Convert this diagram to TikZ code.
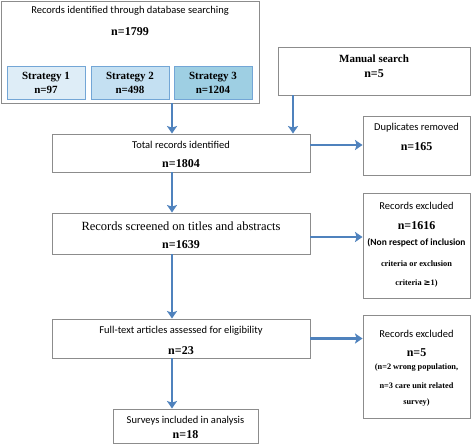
\documentclass[tikz,border=0pt]{standalone}
\usepackage{fontspec}
\setmainfont{Carlito}
\newfontfamily\serifnum{Liberation Serif}
\usepackage{tikz}
\usetikzlibrary{arrows.meta}
\usetikzlibrary{positioning}
\definecolor{mgray}{rgb}{0.55, 0.55, 0.55}
\definecolor{mblue}{rgb}{0.31, 0.51, 0.74}
\definecolor{sedge}{rgb}{0.45, 0.65, 0.84}
\definecolor{sone}{rgb}{0.87, 0.93, 0.97}
\definecolor{stwo}{rgb}{0.77, 0.88, 0.95}
\definecolor{sthree}{rgb}{0.62, 0.81, 0.89}
\tikzset{box/.style = {draw=mgray, line width=0.9pt, fill=white, inner sep=0pt}}
\tikzset{stratbox/.style = {draw=sedge, line width=0.9pt, inner sep=0pt,
                            minimum width=78pt, minimum height=33pt}}
\tikzset{flow/.style = {draw=mblue, line width=2.6pt,
                        -{Stealth[length=7.5pt, width=10pt, inset=1.5pt]}}}
\tikzset{lbl/.style = {inner sep=0pt, font=\fontsize{10.5}{12}\selectfont}}
\tikzset{num/.style = {inner sep=0pt, font=\serifnum\bfseries\fontsize{12}{14}\selectfont}}
\tikzset{strat/.style = {inner sep=0pt, font=\serifnum\bfseries\fontsize{11}{13}\selectfont}}
\tikzset{small/.style = {inner sep=0pt, font=\serifnum\bfseries\fontsize{8.3}{10}\selectfont}}

\begin{document}
\begin{tikzpicture}[x=1pt, y=-1pt]
      \useasboundingbox (0, 0) rectangle (473, 445);

      % boxes
      \node [box, minimum width=258pt, minimum height=102pt] (db) at (130, 52) {};
      \node [stratbox, fill=sone] (sa) at (46, 82.5) {};
      \node [stratbox, fill=stwo] (sb) at (130, 82.5) {};
      \node [stratbox, fill=sthree] (sc) at (213, 82.5) {};
      \node [box, minimum width=192pt, minimum height=48pt] (manual) at (374, 71) {};
      \node [box, minimum width=258pt, minimum height=38pt] (total) at (181, 153) {};
      \node [box, minimum width=107pt, minimum height=59pt] (dup) at (416.5, 145.5) {};
      \node [box, minimum width=258pt, minimum height=41pt] (screen) at (181, 233.5) {};
      \node [box, minimum width=107pt, minimum height=105pt] (exa) at (416.5, 245.5) {};
      \node [box, minimum width=258pt, minimum height=39pt] (full) at (181, 338.5) {};
      \node [box, minimum width=107pt, minimum height=103pt] (exb) at (416.5, 366.5) {};
      \node [box, minimum width=145pt, minimum height=34pt] (surv) at (185.5, 426) {};

      % texts
      \node [lbl] (dbt) at (130, 11) {Records identified through database searching};
      \node [num] (dbn) at (130, 32) {n=1799};
      \node [strat] (sat) at (46, 77) {Strategy 1};
      \node [strat] (san) at (46, 90) {n=97};
      \node [strat] (sbt) at (130, 77) {Strategy 2};
      \node [strat] (sbn) at (130, 90) {n=498};
      \node [strat] (sct) at (213, 77) {Strategy 3};
      \node [strat] (scn) at (213, 90) {n=1204};
      \node [strat] (mant) at (374, 59) {Manual search};
      \node [num] (mann) at (374, 74) {n=5};
      \node [lbl] (tott) at (181, 145) {Total records identified};
      \node [num] (totn) at (181, 164) {n=1804};
      \node [lbl] (dupt) at (416.5, 128) {Duplicates removed};
      \node [num] (dupn) at (416.5, 147) {n=165};
      \node [lbl, font=\serifnum\fontsize{12.5}{14}\selectfont] (scrt) at (181, 226) {Records screened on titles and abstracts};
      \node [num] (scrn) at (181, 245) {n=1639};
      \node [lbl] (exat) at (416.5, 206) {Records excluded};
      \node [num] (exan) at (416.5, 226) {n=1616};
      \node [lbl, font=\bfseries\fontsize{9.5}{11}\selectfont] (exaa) at (416.5, 243) {(Non respect of inclusion};
      \node [small] (exab) at (416.5, 264) {criteria or exclusion};
      \node [small] (exac) at (416.5, 283) {criteria {\fontspec{DejaVu Sans}≥}1)};
      \node [lbl] (fult) at (181, 331) {Full-text articles assessed for eligibility};
      \node [num] (fuln) at (181, 351) {n=23};
      \node [lbl] (exbt) at (416.5, 334) {Records excluded};
      \node [num] (exbn) at (416.5, 353) {n=5};
      \node [small] (exba) at (416.5, 368) {(n=2 wrong population,};
      \node [small] (exbb) at (416.5, 386) {n=3 care unit related};
      \node [small] (exbc) at (416.5, 403) {survey)};
      \node [lbl] (surt) at (185.5, 421) {Surveys included in analysis};
      \node [num] (surn) at (185.5, 435) {n=18};

      % connectors
      \coordinate (col) at (172, 0);
      \coordinate (mcol) at (293, 0);
      \draw [flow] (db.south -| col) -- (total.north -| col);
      \draw [flow] (manual.south -| mcol) -- (total.north -| mcol);
      \draw [flow] (total.south -| col) -- (screen.north -| col);
      \draw [flow] (screen.south -| col) -- (full.north -| col);
      \draw [flow] (full.south -| col) -- (surv.north -| col);
      \draw [flow] ([yshift=8pt]total.east) -- ([yshift=8pt]total.east -| dup.west);
      \draw [flow] ([yshift=-3.5pt]screen.east) -- ([yshift=-3.5pt]screen.east -| exa.west);
      \draw [flow] (full.east) -- (full.east -| exb.west);
    \end{tikzpicture}
\end{document}
